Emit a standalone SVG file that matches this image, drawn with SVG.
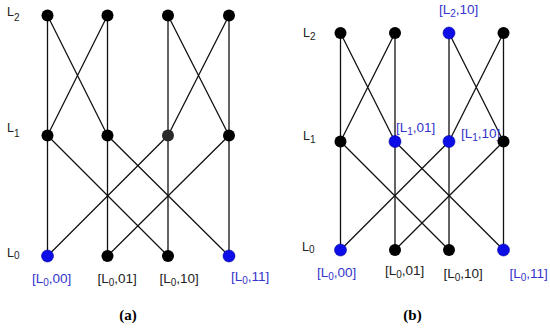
<svg xmlns="http://www.w3.org/2000/svg" width="550" height="328" viewBox="0 0 550 328">
<style>
.e{stroke:#111;stroke-width:1.3;fill:none}
.k{fill:#000}
.b{fill:#0d0de8;stroke:#0000a0;stroke-width:0.6}
.t{font-family:"Liberation Sans",Arial,sans-serif;font-size:13.5px;fill:#222}
.tb{font-family:"Liberation Sans",Arial,sans-serif;font-size:13.5px;fill:#3434cc}
.lv{font-family:"Liberation Sans",Arial,sans-serif;font-size:12.5px;fill:#222}
.s{font-size:10px}
.cap{font-family:"Liberation Serif","Times New Roman",serif;font-size:15px;font-weight:bold;fill:#000}
</style>
<rect width="550" height="328" fill="#fff"/>
<g id="connectors">
<path class="e" d="M47.5,15.5V256M107.5,15.5V256M168,15.5V256M229,15.5V256"/>
<path class="e" d="M47.5,15.5L107.5,135.5M107.5,15.5L47.5,135.5M168,15.5L229,135.5M229,15.5L168,135.5"/>
<path class="e" d="M47.5,135.5L168,256M168,135.5L47.5,256M107.5,135.5L229,256M229,135.5L107.5,256"/>
<path class="e" d="M340.5,33V250M395,33V250M449,33V250M503.5,33V250"/>
<path class="e" d="M340.5,33L395,141.5M395,33L340.5,141.5M449,33L503.5,141.5M503.5,33L449,141.5"/>
<path class="e" d="M340.5,141.5L449,250M449,141.5L340.5,250M395,141.5L503.5,250M503.5,141.5L395,250"/>
</g>
<g id="a_L2_00"><circle class="k" cx="47.5" cy="15.5" r="6"/></g>
<g id="a_L2_01"><circle class="k" cx="107.5" cy="15.5" r="6"/></g>
<g id="a_L2_10"><circle class="k" cx="168" cy="15.5" r="6"/></g>
<g id="a_L2_11"><circle class="k" cx="229" cy="15.5" r="6"/></g>
<g id="a_L1_00"><circle class="k" cx="47.5" cy="135.5" r="6"/></g>
<g id="a_L1_01"><circle class="k" cx="107.5" cy="135.5" r="6"/></g>
<g id="a_L1_10"><circle cx="168" cy="135.5" r="6" fill="#2a2a2a"/></g>
<g id="a_L1_11"><circle class="k" cx="229" cy="135.5" r="6"/></g>
<g id="a_L0_00"><circle class="b" cx="47.5" cy="256" r="6"/><text class="tb" x="32" y="283">[L<tspan class="s" dy="3">0</tspan><tspan dy="-3">,00]</tspan></text></g>
<g id="a_L0_01"><circle class="k" cx="107.5" cy="256" r="6"/><text class="t" x="97.5" y="283">[L<tspan class="s" dy="3">0</tspan><tspan dy="-3">,01]</tspan></text></g>
<g id="a_L0_10"><circle class="k" cx="168" cy="256" r="6"/><text class="t" x="159.5" y="283">[L<tspan class="s" dy="3">0</tspan><tspan dy="-3">,10]</tspan></text></g>
<g id="a_L0_11"><circle class="b" cx="229" cy="256" r="6"/><text class="tb" x="231" y="281">[L<tspan class="s" dy="3">0</tspan><tspan dy="-3">,11]</tspan></text></g>
<g id="a_levels">
<text class="lv" x="7" y="15.5">L<tspan class="s" dy="5">2</tspan></text>
<text class="lv" x="7" y="132">L<tspan class="s" dy="5">1</tspan></text>
<text class="lv" x="7" y="257">L<tspan class="s" dy="2">0</tspan></text>
</g>
<text class="cap" x="128" y="320" text-anchor="middle">(a)</text>
<g id="b_L2_00"><circle class="k" cx="340.5" cy="33" r="6"/></g>
<g id="b_L2_01"><circle class="k" cx="395" cy="33" r="6"/></g>
<g id="b_L2_10"><circle class="b" cx="449" cy="33" r="6"/><text class="tb" x="439" y="14">[L<tspan class="s" dy="3">2</tspan><tspan dy="-3">,10]</tspan></text></g>
<g id="b_L2_11"><circle class="k" cx="503.5" cy="33" r="6"/></g>
<g id="b_L1_00"><circle class="k" cx="340.5" cy="141.5" r="6"/></g>
<g id="b_L1_01"><circle class="b" cx="395" cy="141.5" r="6"/><text class="tb" x="396" y="132">[L<tspan class="s" dy="3">1</tspan><tspan dy="-3">,01]</tspan></text></g>
<g id="b_L1_10"><circle class="b" cx="449" cy="141.5" r="6"/><text class="tb" x="461" y="138">[L<tspan class="s" dy="3">1</tspan><tspan dy="-3">,10]</tspan></text></g>
<g id="b_L1_11"><circle class="k" cx="503.5" cy="141.5" r="6"/></g>
<g id="b_L0_00"><circle class="b" cx="340.5" cy="250" r="6"/><text class="tb" x="317" y="277">[L<tspan class="s" dy="3">0</tspan><tspan dy="-3">,00]</tspan></text></g>
<g id="b_L0_01"><circle class="k" cx="395" cy="250" r="6"/><text class="t" x="385" y="275">[L<tspan class="s" dy="3">0</tspan><tspan dy="-3">,01]</tspan></text></g>
<g id="b_L0_10"><circle class="k" cx="449" cy="250" r="6"/><text class="t" x="443.5" y="278">[L<tspan class="s" dy="3">0</tspan><tspan dy="-3">,10]</tspan></text></g>
<g id="b_L0_11"><circle class="b" cx="503.5" cy="250" r="6"/><text class="tb" x="509.5" y="278">[L<tspan class="s" dy="3">0</tspan><tspan dy="-3">,11]</tspan></text></g>
<g id="b_levels">
<text class="lv" x="303" y="37">L<tspan class="s" dy="3">2</tspan></text>
<text class="lv" x="303" y="140">L<tspan class="s" dy="3">1</tspan></text>
<text class="lv" x="302" y="251">L<tspan class="s" dy="2">0</tspan></text>
</g>
<text class="cap" x="412.5" y="320" text-anchor="middle">(b)</text>
</svg>
